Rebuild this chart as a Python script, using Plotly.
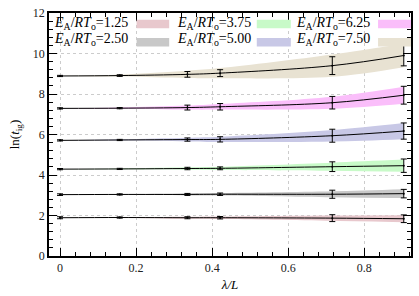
import plotly.graph_objects as go

# ---------------- data ----------------
lam = [0.0, 0.157, 0.335, 0.421, 0.716, 0.904]

labels = ["1.25", "2.50", "3.75", "5.00", "6.25", "7.50"]

pts_125 = [1.89, 1.90, 1.89, 1.89, 1.87, 1.84]
err_125 = [0.05, 0.03, 0.05, 0.06, 0.17, 0.19]
band_125 = [0.0, 0.02, 0.05, 0.06, 0.13, 0.17]

pts_250 = [3.03, 3.04, 3.04, 3.05, 3.05, 3.08]
err_250 = [0.04, 0.03, 0.05, 0.06, 0.20, 0.21]
band_250 = [0.0, 0.02, 0.05, 0.06, 0.15, 0.22]

pts_375 = [4.29, 4.30, 4.32, 4.33, 4.41, 4.46]
err_375 = [0.03, 0.03, 0.06, 0.07, 0.24, 0.33]
band_375 = [0.0, 0.02, 0.06, 0.08, 0.20, 0.30]

pts_500 = [5.71, 5.73, 5.75, 5.76, 5.94, 6.17]
err_500 = [0.03, 0.03, 0.08, 0.13, 0.32, 0.40]
band_500 = [0.0, 0.03, 0.09, 0.13, 0.28, 0.40]

pts_625 = [7.29, 7.30, 7.33, 7.37, 7.57, 7.94]
err_625 = [0.03, 0.03, 0.12, 0.16, 0.31, 0.44]
band_625 = [0.0, 0.03, 0.10, 0.14, 0.30, 0.42]

pts_750 = [8.89, 8.91, 8.97, 9.03, 9.40, 9.90]
err_750 = [0.03, 0.04, 0.14, 0.17, 0.44, 0.51]
band_750 = [0.0, 0.05, 0.18, 0.25, 0.55, 0.58]

series = [
    (labels[0], pts_125, err_125, band_125, "rgb(232,200,205)"),
    (labels[1], pts_250, err_250, band_250, "rgb(200,200,200)"),
    (labels[2], pts_375, err_375, band_375, "rgb(200,250,200)"),
    (labels[3], pts_500, err_500, band_500, "rgb(200,200,230)"),
    (labels[4], pts_625, err_625, band_625, "rgb(250,190,250)"),
    (labels[5], pts_750, err_750, band_750, "rgb(232,226,210)"),
]

FONT = "Liberation Serif"

fig = go.Figure()

# bands
for lab, p, e, b, col in series:
    lo = [v - w for v, w in zip(p, b)]
    hi = [v + w for v, w in zip(p, b)]
    fig.add_trace(go.Scatter(x=lam, y=lo, mode="lines", line=dict(width=0, shape="spline"),
                             showlegend=False, hoverinfo="skip"))
    fig.add_trace(go.Scatter(x=lam, y=hi, mode="lines", line=dict(width=0, shape="spline"),
                             fill="tonexty", fillcolor=col, showlegend=False, hoverinfo="skip"))

# fit lines
for lab, p, e, b, col in series:
    fig.add_trace(go.Scatter(x=lam, y=p, mode="lines",
                             line=dict(color="black", width=1, shape="spline"),
                             showlegend=False))

# error bars
for lab, p, e, b, col in series:
    fig.add_trace(go.Scatter(x=lam, y=p, mode="markers",
                             marker=dict(size=2, color="black"),
                             error_y=dict(type="data", array=e, visible=True,
                                          color="black", thickness=1, width=3),
                             showlegend=False))

# legend (gnuplot style: text then swatch)
legend_text = [
    (0, 0.957, 0.010, 0.242, 0.332, 0.972, 0.937),
    (1, 0.893, 0.010, 0.242, 0.332, 0.897, 0.862),
    (2, 0.957, 0.350, 0.574, 0.668, 0.972, 0.937),
    (3, 0.893, 0.350, 0.574, 0.668, 0.897, 0.862),
    (4, 0.957, 0.680, 0.909, 1.000, 0.972, 0.937),
    (5, 0.893, 0.680, 0.909, 1.000, 0.897, 0.862),
]
shapes = [dict(type="rect", xref="paper", yref="y", x0=0.003, x1=0.997, y0=10.05, y1=11.95,
               fillcolor="white", line=dict(width=0), layer="between")]
annotations = []
for i, ty, tx, sx0, sx1, sy1, sy0 in legend_text:
    annotations.append(dict(
        xref="paper", yref="paper", x=tx, y=ty, xanchor="left", yanchor="middle",
        text="<i>E</i><sub>A</sub>/<i>RT</i><sub>o</sub>=" + labels[i],
        showarrow=False, borderpad=0, font=dict(family=FONT, size=14, color="black")))
    shapes.append(dict(type="rect", xref="paper", yref="paper", x0=sx0, x1=sx1, y0=sy0, y1=sy1,
                       fillcolor=series[i][4], line=dict(width=0), layer="above"))

axis_common = dict(
    showline=True, linecolor="black", linewidth=1.5, mirror="allticks",
    ticks="inside", ticklen=8, tickcolor="black", tickwidth=1,
    showgrid=True, gridcolor="#cccccc", griddash="dot", gridwidth=1,
    zeroline=False, tickfont=dict(family=FONT, size=12, color="#222"),
)

fig.update_layout(
    width=419, height=296,
    margin=dict(l=49, r=6, t=7, b=36),
    paper_bgcolor="white", plot_bgcolor="white",
    xaxis=dict(range=[-0.029, 0.923], tickvals=[0, 0.2, 0.4, 0.6, 0.8],
               ticktext=["0", "0.2", "0.4", "0.6", "0.8"],
               minor=dict(ticks="inside", ticklen=4, dtick=0.04, tick0=0, tickcolor="black", showgrid=False),
               title=dict(text="<i>λ/L</i>", font=dict(family=FONT, size=13, color="black"), standoff=6),
               **axis_common),
    yaxis=dict(range=[0, 12], dtick=2, tick0=0,
               minor=dict(ticks="inside", ticklen=4, dtick=0.4, tick0=0, tickcolor="black", showgrid=False),
               title=dict(text="ln(<i>t</i><sub>ig</sub>)", font=dict(family=FONT, size=13, color="black"), standoff=10),
               **axis_common),
    shapes=shapes, annotations=annotations,
    showlegend=False,
)

fig.write_html("out.html", config={"displayModeBar": False},
               post_script="document.body.style.margin='0';document.body.style.padding='0';")
